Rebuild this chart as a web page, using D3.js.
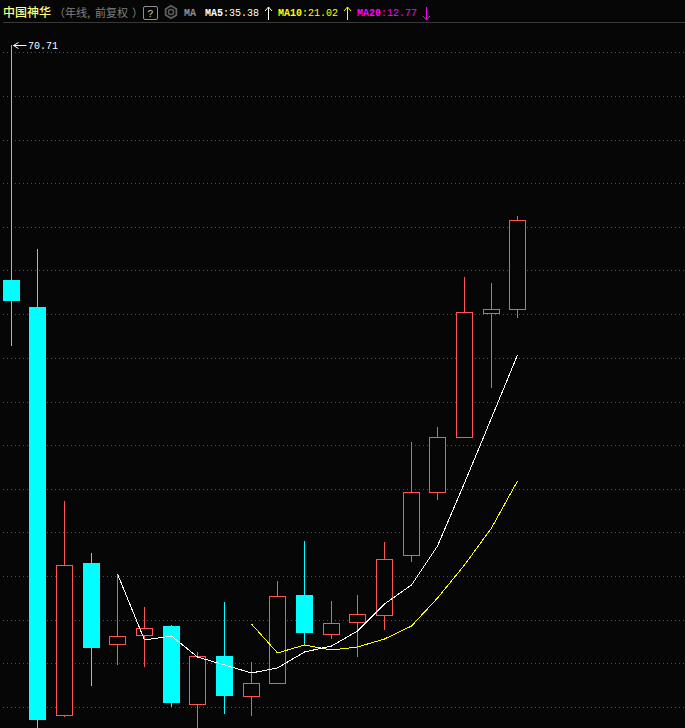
<!DOCTYPE html>
<html>
<head>
<meta charset="utf-8">
<style>
  html, body { margin: 0; padding: 0; background: #060606; overflow: hidden; }
  text { font-family: "Liberation Mono", "DejaVu Sans Mono", monospace; }
</style>
</head>
<body>
<div id="chart"></div>
<script src="https://cdn.jsdelivr.net/npm/d3@7"></script>
<script>
// yearly candles (fuquan prices can go below zero)
const opens  = [43.93, 40.85, -5.65, 11.67, 2.44, 3.47, 4.49, -4.40, 1.07, -3.48, -2.00, 8.03, 3.58, 4.95, 5.75, 12.59, 19.76, 26.03, 40.17, 40.62];
const closes = [41.64, -6.11, 11.45, 2.10, 3.35, 4.27, -4.17, 1.07, -3.37, -2.00, 7.91, 3.81, 4.84, 5.86, 12.13, 19.76, 26.03, 40.28, 40.62, 50.77];
const highs  = [70.71, 47.46, 18.74, 12.81, 10.42, 6.66, 4.61, 1.53, 7.23, 0.39, 9.62, 14.18, 7.34, 8.03, 14.07, 25.46, 27.17, 44.27, 43.59, 51.22];
const lows   = [36.40, -7.93, -5.88, -2.34, 0.05, -0.18, -4.74, -7.93, -5.54, -5.76, -2.00, 2.21, 3.01, 0.96, 4.04, 11.79, 18.85, 26.03, 31.62, 39.60];

const ma5  = [null, null, null, null, 10.42, 2.90, 3.35, 0.96, 0.05, -0.86, -0.29, 1.53, 2.21, 3.92, 7.00, 9.17, 13.61, 20.79, 28.20, 35.38];
const ma10 = [null, null, null, null, null, null, null, null, null, 4.72, 1.42, 2.33, 1.76, 2.10, 3.01, 4.49, 7.68, 11.45, 15.66, 21.02];

const gridPrices = [69.91, 64.90, 59.88, 54.98, 49.97, 45.07, 40.05, 35.04, 30.02, 25.12, 20.11, 15.21, 10.19, 5.18, 0.28, -4.74];

const width = 685, height = 728;
const bg = "#060606", red = "#ff5555", cyan = "#00ffff";

const svg = d3.select("#chart").append("svg")
    .attr("width", width)
    .attr("height", height)
    .style("display", "block")
    .style("background", bg);

const idx = d3.range(opens.length);
const x = d3.scalePoint().domain(idx).range([11.3, 517.65]);
const y = d3.scaleLinear().domain([70.71, -7.93]).range([45, 735]);
const cx = i => Math.floor(x(i)) + 0.5;          // snap to pixel centre
const py = v => Math.round(y(v)) + 0.5;
const halfW = 8;

// GRID
svg.append("g").selectAll("line")
    .data(gridPrices)
    .enter().append("line")
    .attr("x1", 3).attr("x2", width)
    .attr("y1", d => py(d)).attr("y2", d => py(d))
    .attr("stroke", "#505050")
    .attr("stroke-dasharray", "1,3");

// CANDLES
const candles = svg.append("g").attr("shape-rendering", "crispEdges");

candles.selectAll("line")
    .data(idx)
    .enter().append("line")
    .attr("x1", cx).attr("x2", cx)
    .attr("y1", i => y(highs[i])).attr("y2", i => y(lows[i]))
    .attr("stroke", i => closes[i] >= opens[i] ? red : cyan);

candles.selectAll("rect")
    .data(idx)
    .enter().append("rect")
    .attr("x", i => cx(i) - halfW)
    .attr("width", halfW * 2)
    .attr("y", i => py(Math.max(opens[i], closes[i])))
    .attr("height", i => py(Math.min(opens[i], closes[i])) - py(Math.max(opens[i], closes[i])))
    .attr("fill", i => closes[i] >= opens[i] ? bg : cyan)
    .attr("stroke", i => closes[i] >= opens[i] ? red : cyan);

// MOVING AVERAGES
const maLine = vals => d3.line()
    .defined(i => vals[i] !== null)
    .x(cx)
    .y(i => y(vals[i]));

svg.append("path").attr("d", maLine(ma10)(idx))
    .attr("fill", "none").attr("stroke", "#ffff00")
    .attr("shape-rendering", "crispEdges");
svg.append("path").attr("d", maLine(ma5)(idx))
    .attr("fill", "none").attr("stroke", "#ffffff")
    .attr("shape-rendering", "crispEdges");

// HIGH LABEL
const hiX = cx(0), hiY = y(70.71) + 0.5;
svg.append("path")
    .attr("d", `M${hiX + 15},${hiY}H${hiX + 2}M${hiX + 7},${hiY - 3}L${hiX + 2},${hiY}L${hiX + 7},${hiY + 3}`)
    .attr("fill", "none").attr("stroke", "#fff");
svg.append("text")
    .attr("x", 28).attr("y", 49)
    .attr("fill", "#fff").attr("font-size", 10)
    .text("70.71");

// HEADER
svg.append("line")
    .attr("x1", 3).attr("x2", width).attr("y1", 22.5).attr("y2", 22.5)
    .attr("stroke", "#383838");

const cjk = '"Noto Sans CJK SC"';
svg.append("text").attr("x", 3).attr("y", 16.5)
    .attr("fill", "#ffff80").attr("font-size", 12).attr("font-weight", 500).style("font-family", cjk)
    .text("中国神华");
svg.append("text").attr("x", 54).attr("y", 16.5)
    .attr("fill", "#808080").attr("font-size", 11).style("font-family", cjk)
    .text("（年线,");
svg.append("text").attr("x", 95).attr("y", 16.5)
    .attr("fill", "#808080").attr("font-size", 11).style("font-family", cjk)
    .text("前复权");
svg.append("text").attr("x", 132).attr("y", 16.5)
    .attr("fill", "#808080").attr("font-size", 11).style("font-family", cjk)
    .text("）");

svg.append("rect")
    .attr("x", 143.5).attr("y", 6.5).attr("width", 14).attr("height", 13).attr("rx", 1.5)
    .attr("fill", "none").attr("stroke", "#909090");
svg.append("text").attr("x", 150.5).attr("y", 16.5).attr("text-anchor", "middle")
    .attr("fill", "#d0d0d0").attr("font-size", 10).text("?");

// settings gear
const gear = svg.append("g").attr("transform", "translate(171,12)");
gear.append("path")
    .attr("d", d3.line().curve(d3.curveLinearClosed)(d3.range(6).map(k => {
        const a = Math.PI / 6 + k * Math.PI / 3;
        return [6.2 * Math.cos(a), 6.2 * Math.sin(a)];
    })))
    .attr("fill", "none").attr("stroke", "#606060").attr("stroke-width", 1.8);
gear.append("circle").attr("r", 2.5)
    .attr("fill", "none").attr("stroke", "#606060").attr("stroke-width", 1.4);

svg.append("text").attr("x", 184).attr("y", 16)
    .attr("fill", "#909090").attr("font-size", 10).attr("font-weight", "bold").text("MA");

const arrow = (ax, up, color) => {
    const tip = up ? 7 : 20, tail = up ? 20 : 7, d = up ? 4 : -4;
    svg.append("path")
        .attr("d", `M${ax},${tail}V${tip}M${ax - 3.5},${tip + d}L${ax},${tip}L${ax + 3.5},${tip + d}`)
        .attr("fill", "none").attr("stroke", color);
};

const maLabel = (lx, name, val, color) => {
    const t = svg.append("text").attr("x", lx).attr("y", 16).attr("fill", color).attr("font-size", 10);
    t.append("tspan").attr("font-weight", "bold").text(name);
    t.append("tspan").text(":" + val);
};

maLabel(205, "MA5", "35.38", "#fff");
arrow(268.5, true, "#fff");
maLabel(278, "MA10", "21.02", "#ffff00");
arrow(347.5, true, "#ffff00");
maLabel(357, "MA20", "12.77", "#ff00ff");
arrow(426.5, false, "#ff00ff");
</script>
</body>
</html>
